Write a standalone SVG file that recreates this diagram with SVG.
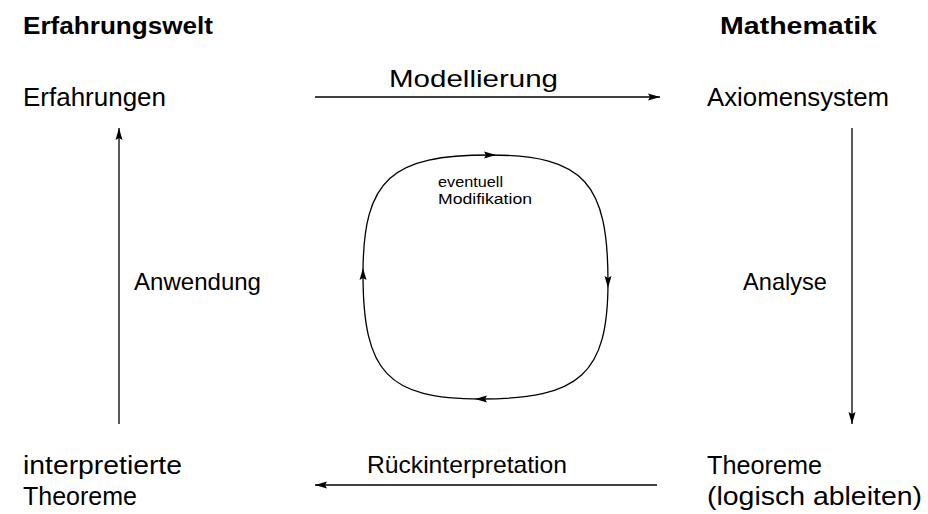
<svg xmlns="http://www.w3.org/2000/svg" width="928" height="514" viewBox="0 0 928 514">
<style>
text{font-family:"Liberation Sans",Arial,sans-serif;fill:#000}
.h{font-weight:bold;font-size:23px}
.n{font-size:25px}
.l{font-size:24px}
.s{font-size:14px}
.c{fill:none;stroke:#000;stroke-width:1.3}
</style>
<defs>
<marker id="ah" markerUnits="userSpaceOnUse" markerWidth="14" markerHeight="10" refX="12" refY="5" orient="auto">
<path d="M0,1.5 L12,5 L0,8.5 L2,5 Z" fill="#000"/>
</marker>
<marker id="am" markerUnits="userSpaceOnUse" markerWidth="14" markerHeight="10" refX="6" refY="5" orient="auto">
<path d="M0,1.5 L12,5 L0,8.5 L2,5 Z" fill="#000"/>
</marker>
</defs>
<g id="header-left"><text class="h" x="23" y="34" textLength="190" lengthAdjust="spacingAndGlyphs">Erfahrungswelt</text></g>
<g id="header-right"><text class="h" x="720" y="34" textLength="157" lengthAdjust="spacingAndGlyphs">Mathematik</text></g>
<g id="erfahrungen"><text class="n" x="23" y="106" textLength="143" lengthAdjust="spacingAndGlyphs">Erfahrungen</text></g>
<g id="axiomensystem"><text class="n" x="707" y="106" textLength="182" lengthAdjust="spacingAndGlyphs">Axiomensystem</text></g>
<g id="interpretierte"><text class="n" x="23" y="474" textLength="159" lengthAdjust="spacingAndGlyphs">interpretierte</text><text class="n" x="23" y="505" textLength="114" lengthAdjust="spacingAndGlyphs">Theoreme</text></g>
<g id="theoreme"><text class="n" x="707" y="474" textLength="115" lengthAdjust="spacingAndGlyphs">Theoreme</text><text class="n" x="707" y="505" textLength="215" lengthAdjust="spacingAndGlyphs">(logisch ableiten)</text></g>
<g id="connectors">
<line class="c" x1="315" y1="97" x2="660" y2="97" marker-end="url(#ah)"/>
<line class="c" x1="852" y1="128" x2="852" y2="424" marker-end="url(#ah)"/>
<line class="c" x1="657" y1="485" x2="315" y2="485" marker-end="url(#ah)"/>
<line class="c" x1="119" y1="424" x2="119" y2="128" marker-end="url(#ah)"/>
<path class="c" d="M363,274 C363,178 392,155 490,155 C585,155 608,184 608,282 C608,374 580,399 481,399 C388,399 363,373 363,274" marker-start="url(#am)" marker-mid="url(#am)"/>
<text class="l" x="389" y="87" textLength="169" lengthAdjust="spacingAndGlyphs">Modellierung</text>
<text class="l" x="743" y="290" textLength="84" lengthAdjust="spacingAndGlyphs">Analyse</text>
<text class="l" x="367" y="473" textLength="200" lengthAdjust="spacingAndGlyphs">Rückinterpretation</text>
<text class="l" x="134" y="290" textLength="127" lengthAdjust="spacingAndGlyphs">Anwendung</text>
<text class="s" x="438" y="187" textLength="65" lengthAdjust="spacingAndGlyphs">eventuell</text>
<text class="s" x="438" y="204" textLength="94" lengthAdjust="spacingAndGlyphs">Modifikation</text>
</g>
</svg>
